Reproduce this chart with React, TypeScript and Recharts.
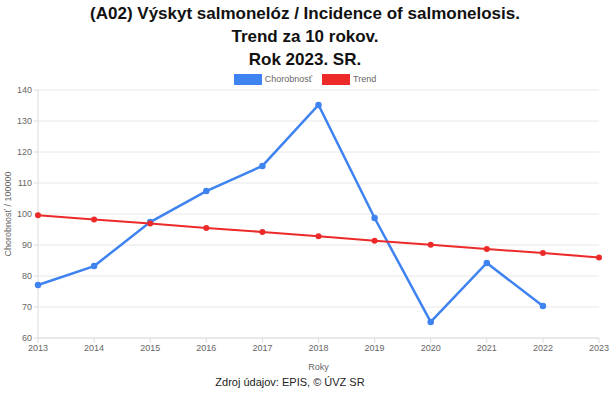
import { CartesianGrid, Line, LineChart, XAxis, YAxis } from "recharts";

const years = ["2013", "2014", "2015", "2016", "2017", "2018", "2019", "2020", "2021", "2022", "2023"];
const incidence = [77.1, 83.2, 97.4, 107.4, 115.5, 135.2, 98.7, 65.2, 84.2, 70.3, null];
const trend = [99.6, 98.2, 96.9, 95.5, 94.2, 92.8, 91.4, 90.1, 88.7, 87.4, 86.0];
const yTicks = [60, 70, 80, 90, 100, 110, 120, 130, 140];

const BLUE = "#3f83f0";
const RED = "#ec2a2a";

const data = years.map((year, i) => ({
  year,
  chorobnost: incidence[i],
  trend: trend[i],
}));

const legendItems = [
  { label: "Chorobnosť", color: BLUE },
  { label: "Trend", color: RED },
];

// legenda ako v pôvodnom grafe (obdĺžniky nad grafom)
function ChartLegend() {
  return (
    <div
      style={{
        position: "absolute",
        top: 73,
        width: 610,
        display: "flex",
        justifyContent: "center",
        gap: 10,
        fontSize: 9,
        lineHeight: "12px",
        color: "#666",
      }}
    >
      {legendItems.map((item) => (
        <div key={item.label} style={{ display: "flex", alignItems: "center", gap: 3 }}>
          <span
            style={{
              display: "inline-block",
              width: 26,
              height: 9,
              background: item.color,
              border: `1px solid ${item.color}`,
            }}
          />
          <span>{item.label}</span>
        </div>
      ))}
    </div>
  );
}

const tickStyle = { fill: "#666", fontSize: 9, fontFamily: "Arial, Liberation Sans, sans-serif" };

export default function App() {
  return (
    <div
      style={{
        position: "absolute",
        left: 0,
        top: 0,
        width: 610,
        height: 394,
        background: "#fff",
        fontFamily: "Arial, 'Liberation Sans', sans-serif",
      }}
    >
      <div
        style={{
          position: "absolute",
          top: 1.5,
          width: 610,
          textAlign: "center",
          fontWeight: "bold",
          fontSize: 17,
          lineHeight: "23px",
          color: "#111",
        }}
      >
        <div>(A02) Výskyt salmonelóz / Incidence of salmonelosis.</div>
        <div>Trend za 10 rokov.</div>
        <div>Rok 2023. SR.</div>
      </div>
      <ChartLegend />
      <div style={{ position: "absolute", left: 0, top: 0 }}>
        <LineChart width={610} height={394} data={data} margin={{ top: 90, right: 11, bottom: 26, left: 8 }}>
          <CartesianGrid stroke="#e8e8e8" vertical={false} />
          <XAxis
            dataKey="year"
            tick={tickStyle}
            tickLine={{ stroke: "#ddd" }}
            axisLine={{ stroke: "#ddd" }}
            tickSize={5}
            interval={0}
            label={{ value: "Roky", position: "insideBottom", offset: -2, fill: "#666", fontSize: 9 }}
            height={30}
          />
          <YAxis
            domain={[60, 140]}
            ticks={yTicks}
            tick={tickStyle}
            tickLine={{ stroke: "#ddd" }}
            axisLine={{ stroke: "#ddd" }}
            tickSize={4}
            width={30}
            label={{
              value: "Chorobnosť / 100000",
              angle: -90,
              position: "insideLeft",
              offset: 0,
              style: { textAnchor: "middle", fill: "#666", fontSize: 9 },
            }}
          />
          <Line
            dataKey="chorobnost"
            stroke={BLUE}
            strokeWidth={2.5}
            dot={{ r: 2, fill: BLUE, stroke: BLUE }}
            isAnimationActive={false}
            connectNulls={false}
          />
          <Line
            dataKey="trend"
            stroke={RED}
            strokeWidth={2}
            dot={{ r: 2, fill: RED, stroke: RED }}
            isAnimationActive={false}
          />
        </LineChart>
      </div>
      <div
        style={{
          position: "absolute",
          top: 376,
          left: 0,
          width: 580,
          textAlign: "center",
          fontSize: 11,
          color: "#222",
        }}
      >
        Zdroj údajov: EPIS, © ÚVZ SR
      </div>
    </div>
  );
}
